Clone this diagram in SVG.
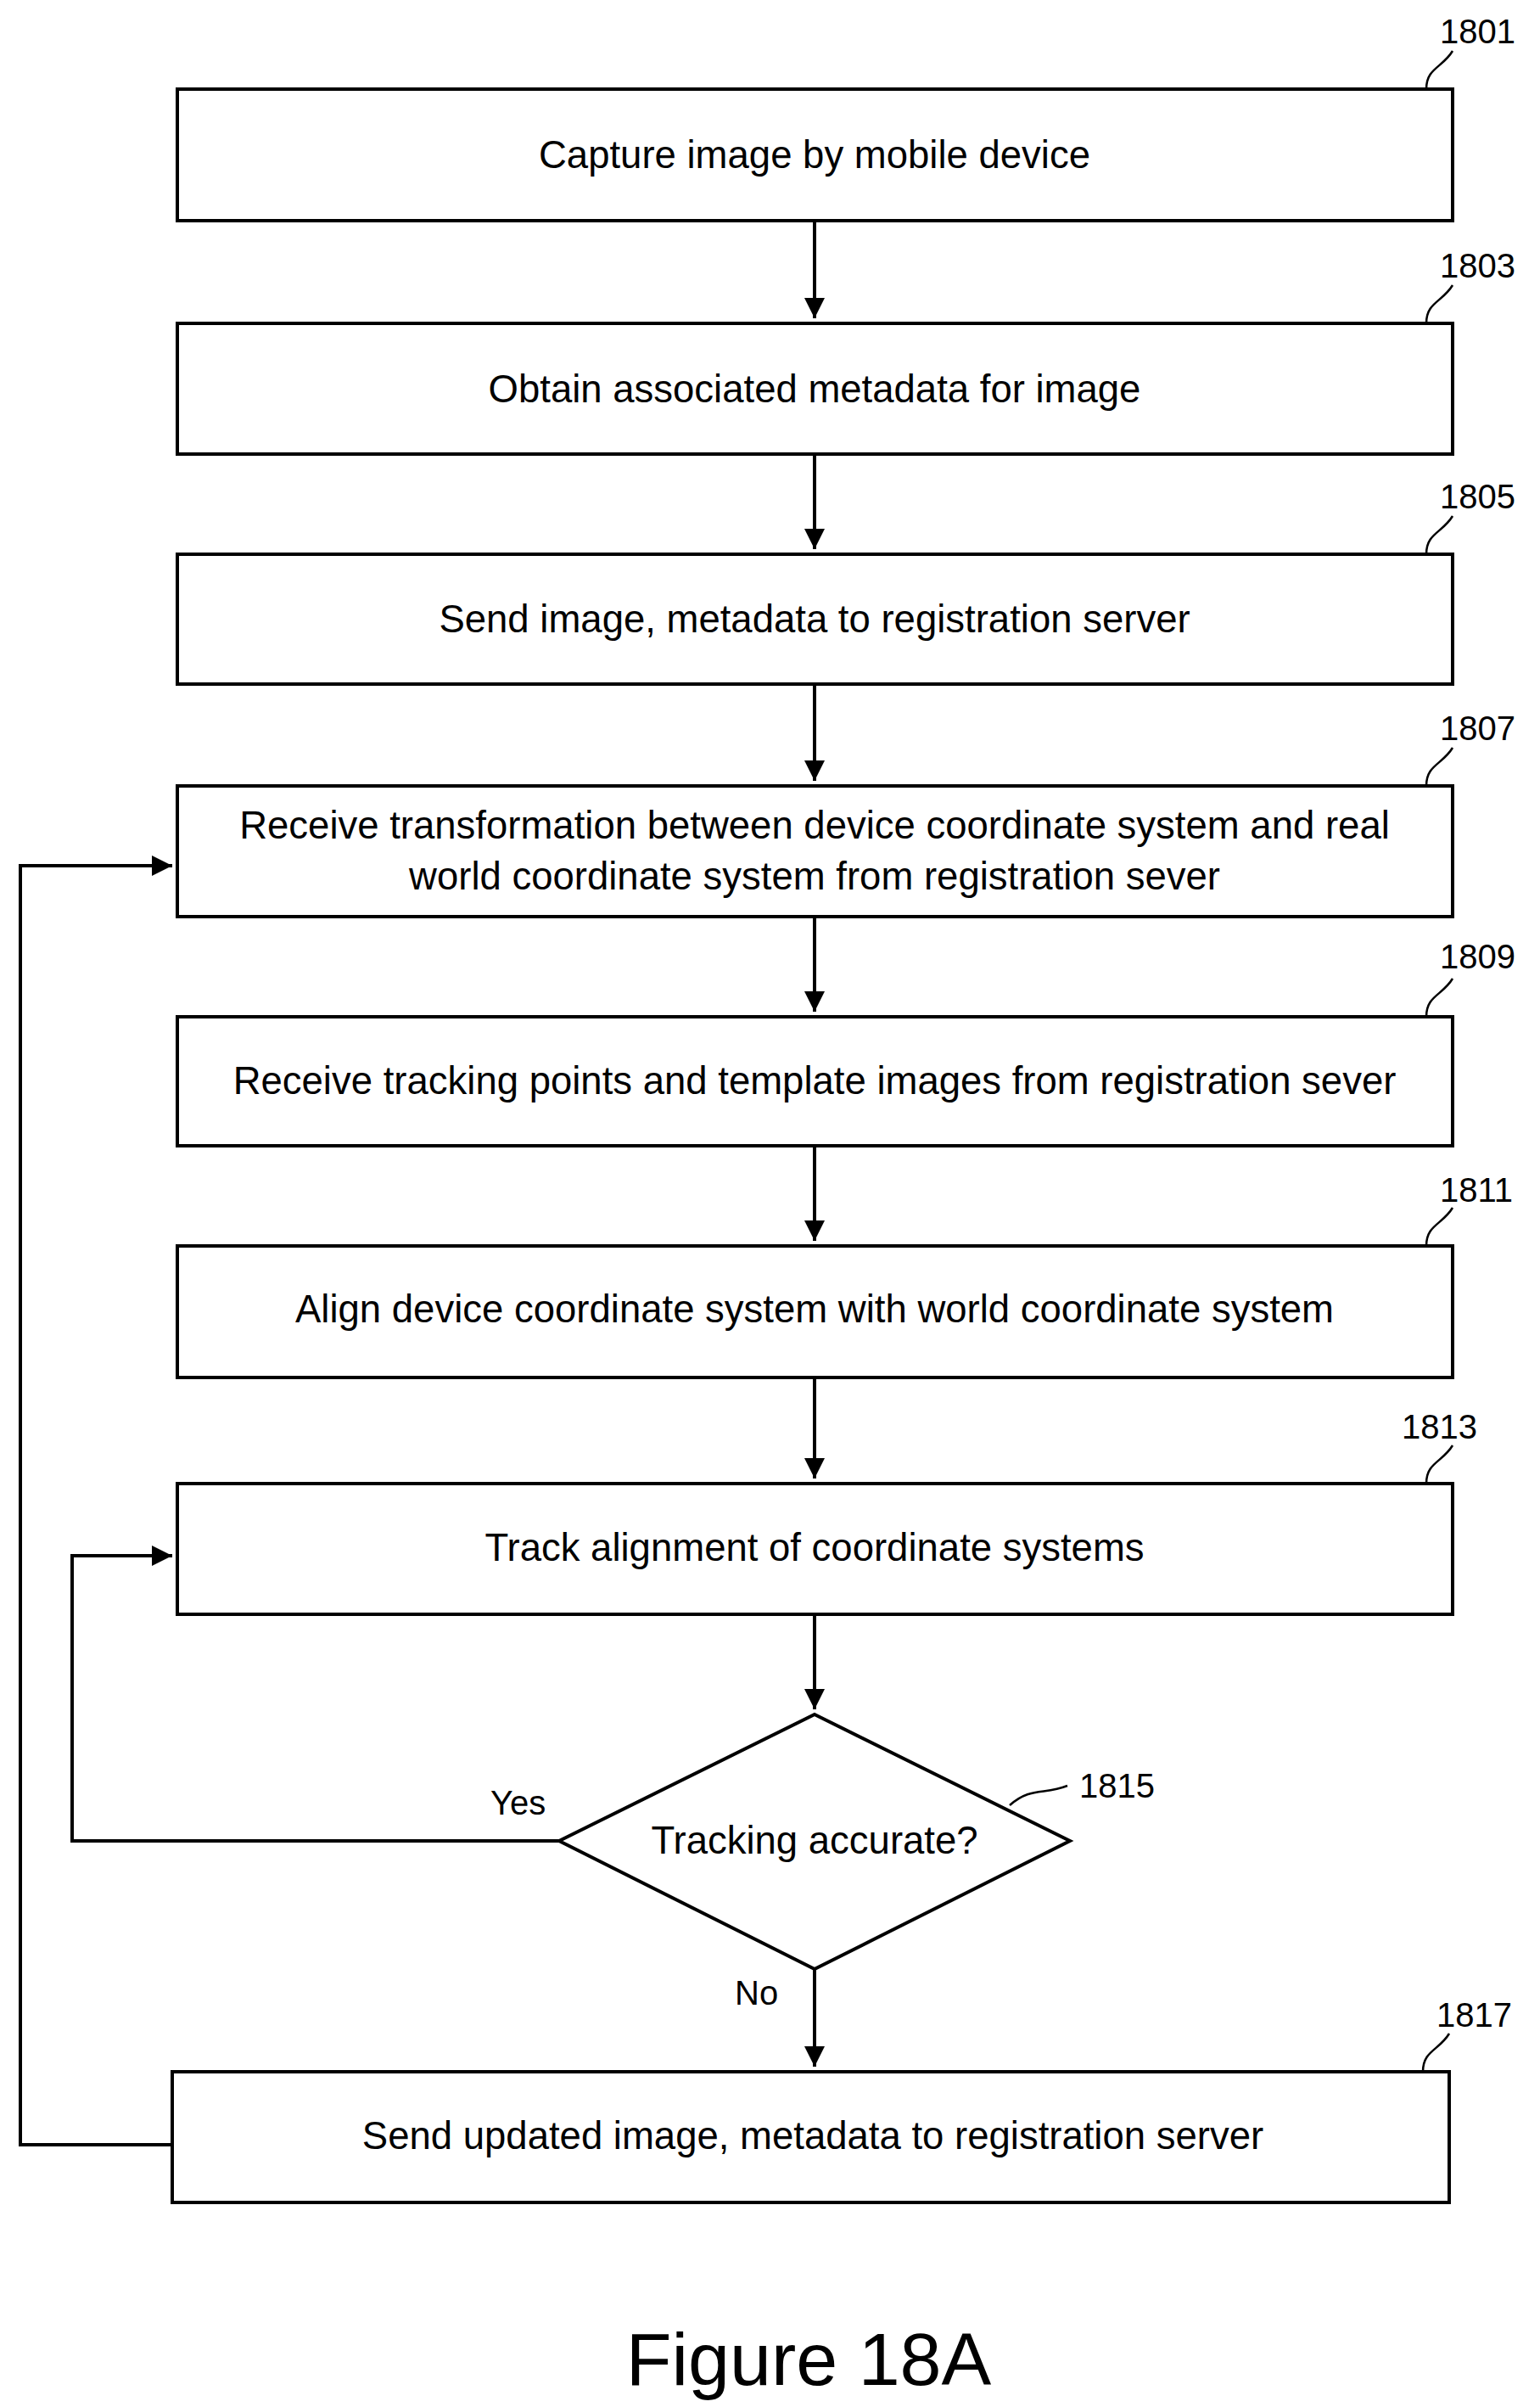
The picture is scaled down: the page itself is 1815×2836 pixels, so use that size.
<svg xmlns="http://www.w3.org/2000/svg" width="1815" height="2836" viewBox="0 0 1815 2836">
<defs>
<style>
.b{fill:#fff;stroke:#000;stroke-width:4}
.t{font-family:"Liberation Sans",Arial,sans-serif;font-size:45.5px;text-anchor:middle;fill:#000}
.l{font-family:"Liberation Sans",Arial,sans-serif;font-size:40px;fill:#000}
.c{fill:none;stroke:#000;stroke-width:4}
.ld{fill:none;stroke:#000;stroke-width:2.5}
</style>
<marker id="a" viewBox="0 0 10 10" refX="10" refY="5" markerWidth="6" markerHeight="6" orient="auto" markerUnits="strokeWidth"><path d="M0,0L10,5L0,10z" fill="#000"/></marker>
</defs>
<rect width="1815" height="2836" fill="#fff"/>
<g id="connectors">
<path class="c" d="M960,260V375" marker-end="url(#a)"/>
<path class="c" d="M960,535V647" marker-end="url(#a)"/>
<path class="c" d="M960,806V920" marker-end="url(#a)"/>
<path class="c" d="M960,1080V1192" marker-end="url(#a)"/>
<path class="c" d="M960,1350V1462" marker-end="url(#a)"/>
<path class="c" d="M960,1623V1742" marker-end="url(#a)"/>
<path class="c" d="M960,1902V2014" marker-end="url(#a)"/>
<path class="c" d="M960,2320V2435" marker-end="url(#a)"/>
<path class="c" d="M659,2169H85V1833H203" marker-end="url(#a)"/>
<path class="c" d="M203,2527H24V1020H203" marker-end="url(#a)"/>
<text class="l" x="578" y="2138">Yes</text>
<text class="l" x="866" y="2362">No</text>
</g>
<g id="n1801"><rect class="b" x="209" y="105" width="1503" height="155"/><text class="t" x="960" y="198">Capture image by mobile device</text><path class="ld" d="M1681,105C1681,80 1700,80 1712,60"/><text class="l" x="1697" y="51">1801</text></g>
<g id="n1803"><rect class="b" x="209" y="381" width="1503" height="154"/><text class="t" x="960" y="474">Obtain associated metadata for image</text><path class="ld" d="M1681,381C1681,356 1700,356 1712,336"/><text class="l" x="1697" y="327">1803</text></g>
<g id="n1805"><rect class="b" x="209" y="653" width="1503" height="153"/><text class="t" x="960" y="745">Send image, metadata to registration server</text><path class="ld" d="M1681,653C1681,628 1700,628 1712,608"/><text class="l" x="1697" y="599">1805</text></g>
<g id="n1807"><rect class="b" x="209" y="926" width="1503" height="154"/><text class="t" x="960" y="988">Receive transformation between device coordinate system and real</text><text class="t" x="960" y="1048">world coordinate system from registration sever</text><path class="ld" d="M1681,926C1681,901 1700,901 1712,881"/><text class="l" x="1697" y="872">1807</text></g>
<g id="n1809"><rect class="b" x="209" y="1198" width="1503" height="152"/><text class="t" x="960" y="1289">Receive tracking points and template images from registration sever</text><path class="ld" d="M1681,1198C1681,1173 1700,1173 1712,1153"/><text class="l" x="1697" y="1141">1809</text></g>
<g id="n1811"><rect class="b" x="209" y="1468" width="1503" height="155"/><text class="t" x="960" y="1558">Align device coordinate system with world coordinate system</text><path class="ld" d="M1681,1468C1681,1443 1700,1443 1712,1423"/><text class="l" x="1697" y="1416">1811</text></g>
<g id="n1813"><rect class="b" x="209" y="1748" width="1503" height="154"/><text class="t" x="960" y="1839">Track alignment of coordinate systems</text><path class="ld" d="M1681,1748C1681,1723 1700,1723 1712,1703"/><text class="l" x="1652" y="1695">1813</text></g>
<g id="n1815"><path class="b" d="M960,2020L1261,2169L960,2320L659,2169z"/><text class="t" x="960" y="2184">Tracking accurate?</text><path class="ld" d="M1190,2127C1215,2105 1230,2115 1258,2104"/><text class="l" x="1272" y="2118">1815</text></g>
<g id="n1817"><rect class="b" x="203" y="2441" width="1505" height="154"/><text class="t" x="958" y="2532">Send updated image, metadata to registration server</text><path class="ld" d="M1677,2441C1677,2416 1696,2416 1708,2396"/><text class="l" x="1693" y="2388">1817</text></g>
<text x="953" y="2810" font-family="Liberation Sans,Arial,sans-serif" font-size="88" text-anchor="middle">Figure 18A</text>
</svg>
